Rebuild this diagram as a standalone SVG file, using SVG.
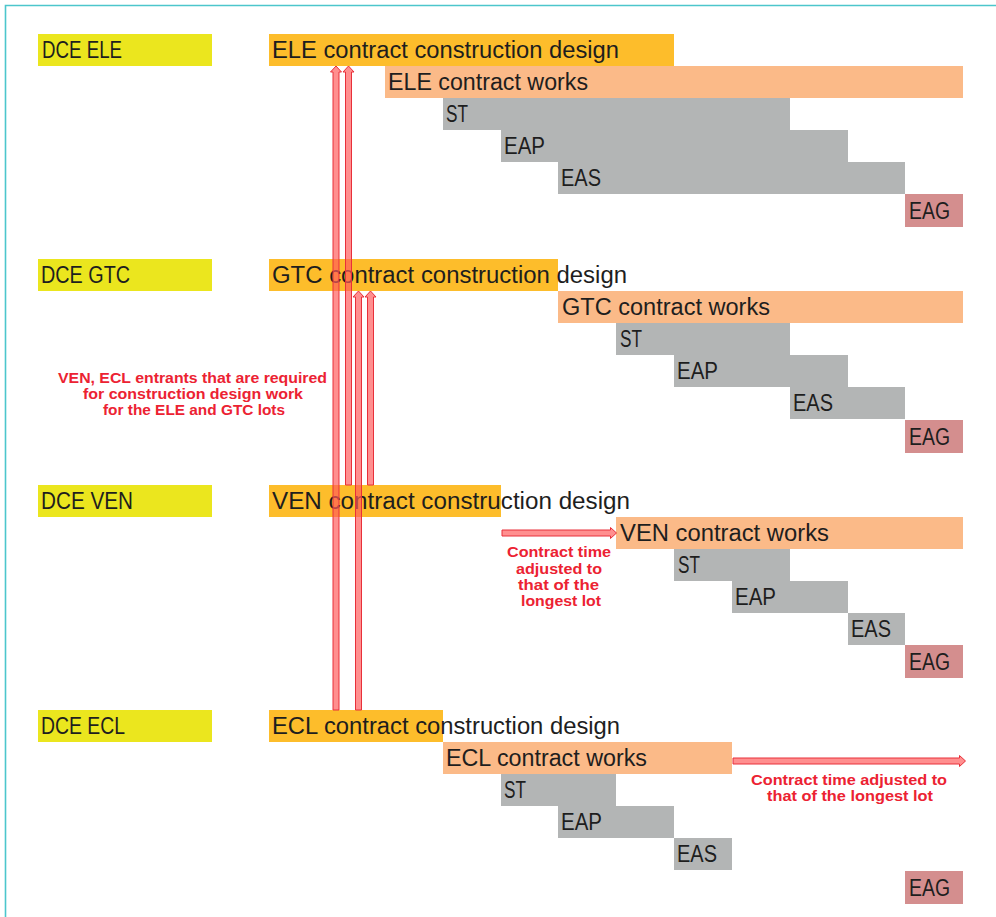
<svg xmlns="http://www.w3.org/2000/svg" width="996" height="917" viewBox="0 0 996 917">
  <style>
    .lbl { font-family: "Liberation Sans", Arial, sans-serif; font-size: 23.5px; fill: #1e1e1e; }
    .note { font-family: "Liberation Sans", Arial, sans-serif; font-size: 15.5px; font-weight: bold; fill: #ec2232; text-anchor: middle; }
    .dce { fill: #ebe61e; }
    .design { fill: #fdbd2b; }
    .works { fill: #fbba88; }
    .task { fill: #b3b5b5; }
    .eag { fill: #d48e8e; }
    .arrow { fill: #ff5a5a; fill-opacity: 0.68; stroke: #e8303a; stroke-width: 1; }
  </style>

  <!-- frame -->
  <path d="M5.5 917 V5.5 H996" fill="none" stroke="#4cc6cc" stroke-width="1.6"/>

  <!-- ELE lot -->
  <g id="dce-ele">
    <rect class="dce" x="38" y="34" width="174" height="32"/>
    <text class="lbl" x="42" y="58" textLength="80" lengthAdjust="spacingAndGlyphs">DCE ELE</text>
  </g>
  <g id="ele-design">
    <rect class="design" x="269" y="34" width="405" height="32"/>
    <text class="lbl" x="272" y="58" textLength="347" lengthAdjust="spacingAndGlyphs">ELE contract construction design</text>
  </g>
  <g id="ele-works">
    <rect class="works" x="385" y="66" width="578" height="32"/>
    <text class="lbl" x="388" y="90" textLength="200" lengthAdjust="spacingAndGlyphs">ELE contract works</text>
  </g>
  <g id="ele-st">
    <rect class="task" x="443" y="98" width="347" height="32"/>
    <text class="lbl" x="446" y="122" textLength="22" lengthAdjust="spacingAndGlyphs">ST</text>
  </g>
  <g id="ele-eap">
    <rect class="task" x="501" y="130" width="347" height="32"/>
    <text class="lbl" x="504" y="154" textLength="41" lengthAdjust="spacingAndGlyphs">EAP</text>
  </g>
  <g id="ele-eas">
    <rect class="task" x="558" y="162" width="347" height="32"/>
    <text class="lbl" x="561" y="186" textLength="40" lengthAdjust="spacingAndGlyphs">EAS</text>
  </g>
  <g id="ele-eag">
    <rect class="eag" x="905" y="194" width="58" height="33"/>
    <text class="lbl" x="909" y="219" textLength="41" lengthAdjust="spacingAndGlyphs">EAG</text>
  </g>

  <!-- GTC lot -->
  <g id="dce-gtc">
    <rect class="dce" x="38" y="259" width="174" height="32"/>
    <text class="lbl" x="41" y="283" textLength="89" lengthAdjust="spacingAndGlyphs">DCE GTC</text>
  </g>
  <g id="gtc-design">
    <rect class="design" x="269" y="259" width="289" height="32"/>
    <text class="lbl" x="272" y="283" textLength="355" lengthAdjust="spacingAndGlyphs">GTC contract construction design</text>
  </g>
  <g id="gtc-works">
    <rect class="works" x="558" y="291" width="405" height="32"/>
    <text class="lbl" x="562" y="315" textLength="208" lengthAdjust="spacingAndGlyphs">GTC contract works</text>
  </g>
  <g id="gtc-st">
    <rect class="task" x="616" y="323" width="174" height="32"/>
    <text class="lbl" x="620" y="347" textLength="22" lengthAdjust="spacingAndGlyphs">ST</text>
  </g>
  <g id="gtc-eap">
    <rect class="task" x="674" y="355" width="174" height="32"/>
    <text class="lbl" x="677" y="379" textLength="41" lengthAdjust="spacingAndGlyphs">EAP</text>
  </g>
  <g id="gtc-eas">
    <rect class="task" x="790" y="387" width="115" height="32"/>
    <text class="lbl" x="793" y="411" textLength="40" lengthAdjust="spacingAndGlyphs">EAS</text>
  </g>
  <g id="gtc-eag">
    <rect class="eag" x="905" y="420" width="58" height="33"/>
    <text class="lbl" x="909" y="445" textLength="41" lengthAdjust="spacingAndGlyphs">EAG</text>
  </g>

  <!-- VEN lot -->
  <g id="dce-ven">
    <rect class="dce" x="38" y="485" width="174" height="32"/>
    <text class="lbl" x="41" y="509" textLength="92" lengthAdjust="spacingAndGlyphs">DCE VEN</text>
  </g>
  <g id="ven-design">
    <rect class="design" x="269" y="485" width="232" height="32"/>
    <text class="lbl" x="272" y="509" textLength="358" lengthAdjust="spacingAndGlyphs">VEN contract construction design</text>
  </g>
  <g id="ven-works">
    <rect class="works" x="616" y="517" width="347" height="32"/>
    <text class="lbl" x="620" y="541" textLength="209" lengthAdjust="spacingAndGlyphs">VEN contract works</text>
  </g>
  <g id="ven-st">
    <rect class="task" x="674" y="549" width="116" height="32"/>
    <text class="lbl" x="678" y="573" textLength="22" lengthAdjust="spacingAndGlyphs">ST</text>
  </g>
  <g id="ven-eap">
    <rect class="task" x="732" y="581" width="116" height="32"/>
    <text class="lbl" x="735" y="605" textLength="41" lengthAdjust="spacingAndGlyphs">EAP</text>
  </g>
  <g id="ven-eas">
    <rect class="task" x="848" y="613" width="57" height="32"/>
    <text class="lbl" x="851" y="637" textLength="40" lengthAdjust="spacingAndGlyphs">EAS</text>
  </g>
  <g id="ven-eag">
    <rect class="eag" x="905" y="645" width="58" height="33"/>
    <text class="lbl" x="909" y="670" textLength="41" lengthAdjust="spacingAndGlyphs">EAG</text>
  </g>

  <!-- ECL lot -->
  <g id="dce-ecl">
    <rect class="dce" x="38" y="710" width="174" height="32"/>
    <text class="lbl" x="41" y="734" textLength="84" lengthAdjust="spacingAndGlyphs">DCE ECL</text>
  </g>
  <g id="ecl-design">
    <rect class="design" x="269" y="710" width="174" height="32"/>
    <text class="lbl" x="272" y="734" textLength="348" lengthAdjust="spacingAndGlyphs">ECL contract construction design</text>
  </g>
  <g id="ecl-works">
    <rect class="works" x="443" y="742" width="289" height="32"/>
    <text class="lbl" x="446" y="766" textLength="201" lengthAdjust="spacingAndGlyphs">ECL contract works</text>
  </g>
  <g id="ecl-st">
    <rect class="task" x="501" y="774" width="115" height="32"/>
    <text class="lbl" x="504" y="798" textLength="22" lengthAdjust="spacingAndGlyphs">ST</text>
  </g>
  <g id="ecl-eap">
    <rect class="task" x="558" y="806" width="116" height="32"/>
    <text class="lbl" x="561" y="830" textLength="41" lengthAdjust="spacingAndGlyphs">EAP</text>
  </g>
  <g id="ecl-eas">
    <rect class="task" x="674" y="838" width="58" height="32"/>
    <text class="lbl" x="677" y="862" textLength="40" lengthAdjust="spacingAndGlyphs">EAS</text>
  </g>
  <g id="ecl-eag">
    <rect class="eag" x="905" y="871" width="58" height="33"/>
    <text class="lbl" x="909" y="896" textLength="41" lengthAdjust="spacingAndGlyphs">EAG</text>
  </g>

  <!-- block arrows -->
  <g id="connectors">
    <!-- ECL design feeds ELE design -->
    <path class="arrow" d="M333 710 V72 H330.5 L336 66 L341.5 72 H339 V710 Z"/>
    <!-- VEN design feeds ELE design -->
    <path class="arrow" d="M345.5 485 V72 H343 L348.5 66 L354 72 H351.5 V485 Z"/>
    <!-- ECL design feeds GTC design -->
    <path class="arrow" d="M355.5 710 V297 H353 L358.5 291 L364 297 H361.5 V710 Z"/>
    <!-- VEN design feeds GTC design -->
    <path class="arrow" d="M367.5 485 V297 H365 L370.5 291 L376 297 H373.5 V485 Z"/>
    <!-- VEN works shifted to the longest lot -->
    <path class="arrow" d="M502 530 H610.5 V527.5 L616.5 533 L610.5 538.5 V536 H502 Z"/>
    <!-- ECL works shifted to the longest lot -->
    <path class="arrow" d="M733 758 H959.5 V755.5 L965.5 761 L959.5 766.5 V764 H733 Z"/>
  </g>

  <!-- notes -->
  <g id="note-entrants">
    <text class="note" x="192.5" y="383" textLength="269" lengthAdjust="spacingAndGlyphs">VEN, ECL entrants that are required</text>
    <text class="note" x="193" y="399" textLength="220" lengthAdjust="spacingAndGlyphs">for construction design work</text>
    <text class="note" x="194" y="415" textLength="182" lengthAdjust="spacingAndGlyphs">for the ELE and GTC lots</text>
  </g>
  <g id="note-ven">
    <text class="note" x="559" y="557" textLength="104" lengthAdjust="spacingAndGlyphs">Contract time</text>
    <text class="note" x="559" y="573.5" textLength="86" lengthAdjust="spacingAndGlyphs">adjusted to</text>
    <text class="note" x="558.5" y="590" textLength="81" lengthAdjust="spacingAndGlyphs">that of the</text>
    <text class="note" x="561" y="606" textLength="80" lengthAdjust="spacingAndGlyphs">longest lot</text>
  </g>
  <g id="note-ecl">
    <text class="note" x="849" y="785" textLength="196" lengthAdjust="spacingAndGlyphs">Contract time adjusted to</text>
    <text class="note" x="850" y="801" textLength="166" lengthAdjust="spacingAndGlyphs">that of the longest lot</text>
  </g>
</svg>
